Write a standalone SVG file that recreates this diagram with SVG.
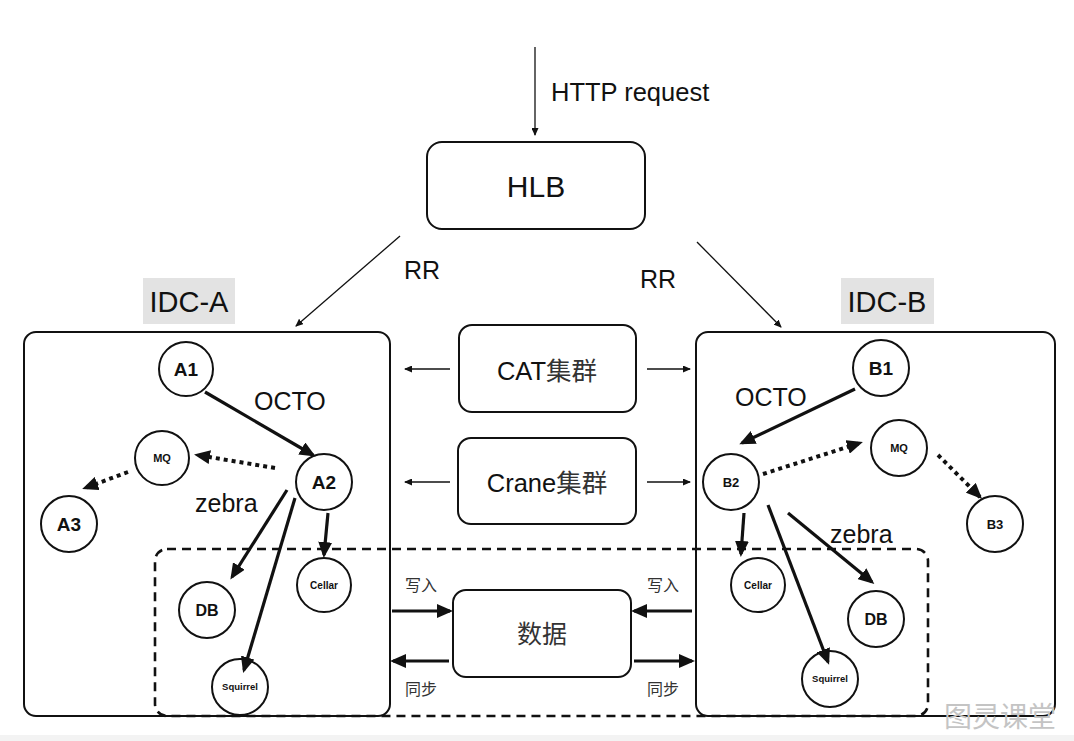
<svg xmlns="http://www.w3.org/2000/svg" width="1074" height="741" viewBox="0 0 1074 741">
<defs>
<style>
text{font-family:"Liberation Sans",Arial,"Noto Sans CJK SC",sans-serif;fill:#111}
.box{fill:#fff;stroke:#111;stroke-width:2}
.node{fill:#fff;stroke:#111;stroke-width:2}
.nl{font-weight:bold;text-anchor:middle}
.thin{stroke:#111;stroke-width:1.3;fill:none}
.thick{stroke:#111;stroke-width:3.2;fill:none}
.dot{stroke:#111;stroke-width:4;fill:none;stroke-dasharray:4 4}
.lbl{font-size:25px}
.cn{font-family:"Noto Sans CJK SC",sans-serif;fill:#333}
</style>
<marker id="ah" viewBox="0 0 16 14" markerWidth="16" markerHeight="14" refX="13" refY="7" orient="auto" markerUnits="userSpaceOnUse"><path d="M0,0 L16,7 L0,14 z" fill="#111"/></marker>
<marker id="as" viewBox="0 0 8 7" markerWidth="8" markerHeight="7" refX="7" refY="3.5" orient="auto" markerUnits="userSpaceOnUse"><path d="M0,0 L8,3.5 L0,7 z" fill="#111"/></marker>
</defs>
<rect width="1074" height="741" fill="#fff"/>
<rect x="0" y="735" width="1074" height="6" fill="#f3f3f3"/>

<g id="idc-a">
<rect x="143" y="278" width="92" height="46" fill="#e3e3e3"/>
<text x="189" y="312" font-size="29" text-anchor="middle">IDC-A</text>
<rect class="box" x="24" y="332" width="366" height="384" rx="12"/>
</g>
<g id="idc-b">
<rect x="841" y="278" width="93" height="46" fill="#e3e3e3"/>
<text x="887" y="312" font-size="29" text-anchor="middle">IDC-B</text>
<rect class="box" x="696" y="332" width="359" height="384" rx="12"/>
</g>
<g id="data-zone">
<rect x="155" y="549" width="773" height="167" rx="12" fill="none" stroke="#111" stroke-width="2.6" stroke-dasharray="9 6"/>
</g>

<g id="hlb"><rect class="box" x="427" y="142" width="218" height="87" rx="15"/><text x="536" y="197" font-size="30" text-anchor="middle" fill="#222">HLB</text></g>
<g id="cat"><rect class="box" x="459" y="325" width="177" height="87" rx="13"/><text x="547" y="380" font-size="25.5" text-anchor="middle" fill="#222">CAT<tspan class="cn">集群</tspan></text></g>
<g id="crane"><rect class="box" x="458" y="438" width="178" height="86" rx="13"/><text x="547" y="492" font-size="25.5" text-anchor="middle" fill="#222">Crane<tspan class="cn">集群</tspan></text></g>
<g id="data"><rect class="box" x="453" y="590" width="178" height="87" rx="13"/><text x="542" y="643" font-size="25" text-anchor="middle" class="cn">数据</text></g>

<g id="A1"><circle class="node" cx="186" cy="369" r="27"/><text class="nl" x="186" y="376" font-size="19">A1</text></g>
<g id="A2"><circle class="node" cx="324" cy="482" r="28"/><text class="nl" x="324" y="489" font-size="19">A2</text></g>
<g id="MQ-A"><circle class="node" cx="162" cy="458" r="27"/><text class="nl" x="162" y="462" font-size="11">MQ</text></g>
<g id="A3"><circle class="node" cx="69" cy="524" r="28"/><text class="nl" x="69" y="531" font-size="19">A3</text></g>
<g id="DB-A"><circle class="node" cx="207" cy="610" r="28"/><text class="nl" x="207" y="616" font-size="16">DB</text></g>
<g id="Cellar-A"><circle class="node" cx="324" cy="585" r="27"/><text class="nl" x="324" y="589" font-size="10">Cellar</text></g>
<g id="Squirrel-A"><circle class="node" cx="240" cy="687" r="28"/><text class="nl" x="240" y="690" font-size="9.5">Squirrel</text></g>

<g id="B1"><circle class="node" cx="881" cy="368" r="28"/><text class="nl" x="881" y="375" font-size="19">B1</text></g>
<g id="B2"><circle class="node" cx="731" cy="482" r="28"/><text class="nl" x="731" y="487" font-size="13">B2</text></g>
<g id="MQ-B"><circle class="node" cx="899" cy="448" r="28"/><text class="nl" x="899" y="452" font-size="11">MQ</text></g>
<g id="B3"><circle class="node" cx="995" cy="524" r="28"/><text class="nl" x="995" y="529" font-size="13">B3</text></g>
<g id="Cellar-B"><circle class="node" cx="758" cy="585" r="27"/><text class="nl" x="758" y="589" font-size="10">Cellar</text></g>
<g id="DB-B"><circle class="node" cx="876" cy="619" r="28"/><text class="nl" x="876" y="625" font-size="16">DB</text></g>
<g id="Squirrel-B"><circle class="node" cx="830" cy="679" r="28"/><text class="nl" x="830" y="682" font-size="9.5">Squirrel</text></g>

<g id="connectors">
<line class="thin" x1="535" y1="47" x2="535" y2="135" marker-end="url(#as)"/>
<line class="thin" x1="400" y1="236" x2="296" y2="326" marker-end="url(#as)"/>
<line class="thin" x1="697" y1="242" x2="781" y2="327" marker-end="url(#as)"/>
<line class="thin" x1="450" y1="369" x2="405" y2="369" marker-end="url(#as)"/>
<line class="thin" x1="647" y1="369" x2="690" y2="369" marker-end="url(#as)"/>
<line class="thin" x1="450" y1="482" x2="405" y2="482" marker-end="url(#as)"/>
<line class="thin" x1="647" y1="482" x2="690" y2="482" marker-end="url(#as)"/>

<line class="thick" x1="205" y1="392" x2="313" y2="455" marker-end="url(#ah)"/>
<line class="dot" x1="275" y1="468" x2="197" y2="455" marker-end="url(#ah)"/>
<line class="dot" x1="128" y1="472" x2="85" y2="488" marker-end="url(#ah)"/>
<line class="thick" x1="287" y1="490" x2="232" y2="577" marker-end="url(#ah)"/>
<line class="thick" x1="295" y1="498" x2="244" y2="670" marker-end="url(#ah)"/>
<line class="thick" x1="328" y1="513" x2="324" y2="555" marker-end="url(#ah)"/>

<line class="thick" x1="855" y1="389" x2="742" y2="443" marker-end="url(#ah)"/>
<line class="dot" x1="763" y1="474" x2="860" y2="443" marker-end="url(#ah)"/>
<line class="dot" x1="938" y1="455" x2="980" y2="497" marker-end="url(#ah)"/>
<line class="thick" x1="744" y1="513" x2="741" y2="554" marker-end="url(#ah)"/>
<line class="thick" x1="768" y1="505" x2="828" y2="662" marker-end="url(#ah)"/>
<line class="thick" x1="788" y1="513" x2="872" y2="582" marker-end="url(#ah)"/>

<line class="thick" stroke-width="4" x1="392" y1="611" x2="450" y2="611" marker-end="url(#ah)"/>
<line class="thick" stroke-width="4" x1="449" y1="661" x2="393" y2="661" marker-end="url(#ah)"/>
<line class="thick" stroke-width="4" x1="692" y1="611" x2="634" y2="611" marker-end="url(#ah)"/>
<line class="thick" stroke-width="4" x1="634" y1="661" x2="692" y2="661" marker-end="url(#ah)"/>
</g>

<g id="labels">
<text x="551" y="101" font-size="25.5">HTTP request</text>
<text x="404" y="279" font-size="25">RR</text>
<text x="640" y="288" font-size="25">RR</text>
<text class="lbl" x="254" y="410">OCTO</text>
<text class="lbl" x="195" y="512">zebra</text>
<text class="lbl" x="735" y="406">OCTO</text>
<text class="lbl" x="830" y="543">zebra</text>
<text class="cn" x="421" y="591" font-size="16" text-anchor="middle">写入</text>
<text class="cn" x="421" y="695" font-size="16" text-anchor="middle">同步</text>
<text class="cn" x="663" y="591" font-size="16" text-anchor="middle">写入</text>
<text class="cn" x="663" y="695" font-size="16" text-anchor="middle">同步</text>
<text x="1000" y="727" font-size="28" text-anchor="middle" style="fill:#c4c4c4;font-family:'Noto Sans CJK SC',sans-serif">图灵课堂</text>
</g>
</svg>
